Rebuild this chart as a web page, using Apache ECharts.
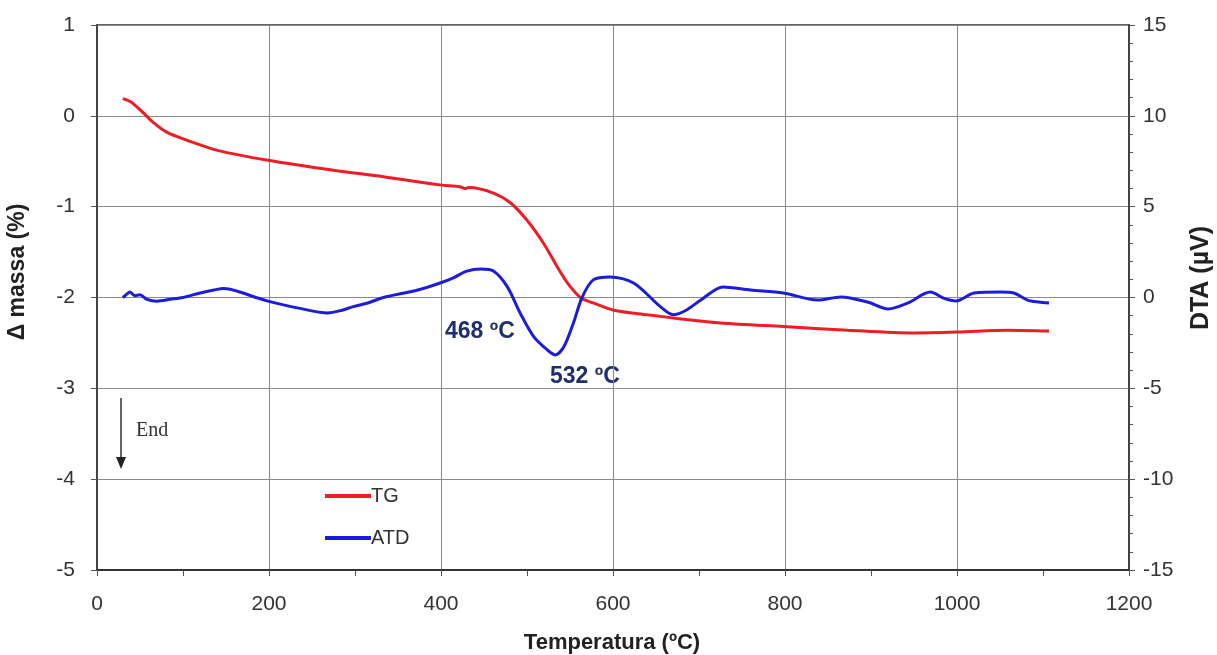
<!DOCTYPE html>
<html>
<head>
<meta charset="utf-8">
<script src="https://cdn.jsdelivr.net/npm/echarts@6/dist/echarts.min.js"></script>
<style>html,body{margin:0;padding:0;background:#fff;}#c{width:1217px;height:655px;}</style>
</head>
<body>
<div id="c"></div>
<script>
// Data
var tgTemp = [30, 40, 53, 65, 81, 105, 140, 199, 275, 333, 399, 422, 428, 432, 461, 481, 500, 519, 535, 547, 562, 577, 601, 640, 675, 725, 798, 873, 950, 1001, 1059, 1107];
var tgMass = [0.19, 0.15, 0.04, -0.07, -0.18, -0.27, -0.38, -0.49, -0.60, -0.67, -0.76, -0.78, -0.80, -0.79, -0.85, -0.96, -1.15, -1.40, -1.66, -1.84, -2.00, -2.06, -2.14, -2.19, -2.23, -2.28, -2.32, -2.36, -2.39, -2.38, -2.36, -2.37];
var atdTemp = [30, 35, 38, 44, 50, 58, 70, 85, 100, 120, 135, 147, 155, 166, 199, 236, 268, 285, 298, 315, 333, 372, 399, 415, 430, 446, 461, 477, 492, 508, 524, 533, 543, 554, 564, 577, 597, 624, 655, 670, 685, 702, 728, 760, 798, 838, 865, 896, 920, 943, 969, 985, 999, 1020, 1051, 1066, 1082, 1095, 1107];
var atdVal = [0.0, 0.2, 0.3, 0.1, 0.15, -0.1, -0.2, -0.1, 0.0, 0.25, 0.4, 0.5, 0.45, 0.3, -0.2, -0.6, -0.85, -0.7, -0.5, -0.3, 0.0, 0.4, 0.8, 1.1, 1.45, 1.57, 1.46, 0.6, -0.85, -2.17, -2.9, -3.16, -2.7, -1.4, 0.0, 0.97, 1.13, 0.8, -0.5, -0.95, -0.7, -0.14, 0.58, 0.41, 0.25, -0.14, 0.03, -0.25, -0.63, -0.3, 0.3, -0.05, -0.19, 0.25, 0.3, 0.25, -0.14, -0.25, -0.3];
var xTicks = [0, 200, 400, 600, 800, 1000, 1200];
var leftTicks = [-5, -4, -3, -2, -1, 0, 1];
var rightTicks = [-15, -10, -5, 0, 5, 10, 15];
var peakLabels = ['468 ºC', '532 ºC'];

function zip(a, b) { return a.map(function (v, i) { return [v, b[i]]; }); }

var chart = echarts.init(document.getElementById('c'));
var F = 'Liberation Sans, Arial, sans-serif';
var lab = { color: '#333', fontSize: 21, fontFamily: F };
chart.setOption({
  animation: false,
  grid: { left: 97, right: 88, top: 25, bottom: 85, show: true, borderColor: '#333', borderWidth: 1.5 },
  legend: {
    left: 320, top: 481, orient: 'vertical', itemGap: 22, itemWidth: 46, itemHeight: 4,
    icon: 'rect', textStyle: { fontSize: 20, fontFamily: F, color: '#333', padding: [0, 0, 0, -5] },
    data: ['TG', 'ATD']
  },
  xAxis: {
    type: 'value', min: xTicks[0], max: xTicks[xTicks.length - 1], interval: 200,
    axisLine: { onZero: false, lineStyle: { color: '#333', width: 2 } },
    axisTick: { show: true, length: 6, lineStyle: { color: '#555' } },
    minorTick: { show: true, splitNumber: 2, length: 6, lineStyle: { color: '#555' } },
    axisLabel: Object.assign({ margin: 24, formatter: function (v) { return String(v); } }, lab),
    splitLine: { show: true, lineStyle: { color: '#8a8a8a', width: 1 } }
  },
  yAxis: [{
    type: 'value', min: leftTicks[0], max: leftTicks[leftTicks.length - 1], interval: 1,
    axisLine: { show: true, lineStyle: { color: '#444', width: 2 } },
    axisTick: { show: true, length: 6, lineStyle: { color: '#555' } },
    axisLabel: Object.assign({ margin: 22 }, lab),
    splitLine: { show: true, lineStyle: { color: '#8a8a8a', width: 1 } }
  }, {
    type: 'value', min: rightTicks[0], max: rightTicks[rightTicks.length - 1], interval: 5,
    position: 'right',
    axisLine: { show: true, lineStyle: { color: '#444', width: 2 } },
    axisTick: { show: true, length: 6, lineStyle: { color: '#555' } },
    minorTick: { show: true, splitNumber: 5, length: 4, lineStyle: { color: '#555' } },
    axisLabel: Object.assign({ margin: 14 }, lab),
    splitLine: { show: false }
  }],
  series: [{
    name: 'TG', type: 'line', yAxisIndex: 0, data: zip(tgTemp, tgMass), showSymbol: false, smooth: 0.3,
    lineStyle: { color: '#ee1c24', width: 3 }, itemStyle: { color: '#ee1c24' }, z: 3
  }, {
    name: 'ATD', type: 'line', yAxisIndex: 1, data: zip(atdTemp, atdVal), showSymbol: false, smooth: 0.3,
    lineStyle: { color: '#1c1cdc', width: 3 }, itemStyle: { color: '#1c1cdc' }, z: 4
  }],
  graphic: [
    { type: 'text', left: 445, top: 320, style: { text: peakLabels[0], font: 'bold 23px ' + F, fill: '#1f2f6b' } },
    { type: 'text', left: 550, top: 365, style: { text: peakLabels[1], font: 'bold 23px ' + F, fill: '#1f2f6b' } },
    { type: 'line', shape: { x1: 121, y1: 398, x2: 121, y2: 460 }, style: { stroke: '#333', lineWidth: 1.5 } },
    { type: 'polygon', shape: { points: [[116, 457], [126, 457], [121, 469]] }, style: { fill: '#222' } },
    { type: 'text', left: 136, top: 421, style: { text: 'End', font: '20px Liberation Serif, DejaVu Serif, serif', fill: '#333' } },
    { type: 'text', x: 18, y: 272, rotation: Math.PI / 2, style: { text: 'Δ massa (%)', font: 'bold 23px ' + F, fill: '#222', align: 'center', verticalAlign: 'middle' } },
    { type: 'text', x: 1201, y: 278, rotation: Math.PI / 2, style: { text: 'DTA (µV)', font: 'bold 25px ' + F, fill: '#222', align: 'center', verticalAlign: 'middle' } },
    { type: 'text', x: 612, y: 643, style: { text: 'Temperatura (ºC)', font: 'bold 22px ' + F, fill: '#222', align: 'center', verticalAlign: 'middle' } }
  ]
});
</script>
</body>
</html>
